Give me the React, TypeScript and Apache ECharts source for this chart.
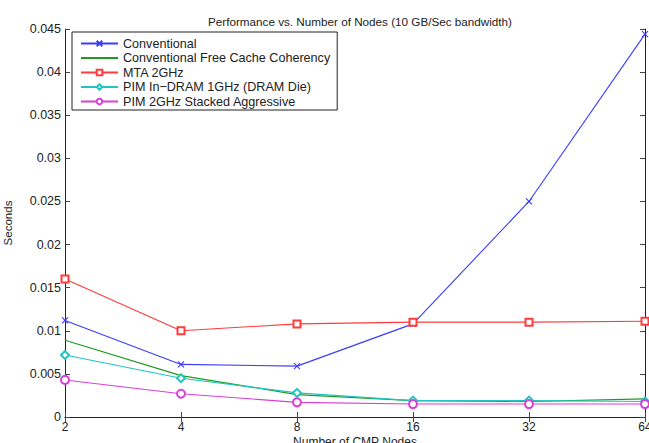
import React, { useEffect, useRef } from "react";
import * as echarts from "echarts";

const nodes = ["2", "4", "8", "16", "32", "64"];
const conventional = [0.0112, 0.0061, 0.0059, 0.0108, 0.025, 0.0444];
const freeCache = [0.0089, 0.0048, 0.0026, 0.0019, 0.0018, 0.0021];
const mta = [0.016, 0.0100, 0.0108, 0.0110, 0.0110, 0.0111];
const pimDram = [0.0072, 0.0045, 0.0028, 0.0019, 0.0019, 0.0018];
const pimStacked = [0.0043, 0.0027, 0.0017, 0.0015, 0.0015, 0.0015];

const FONT = "Liberation Sans";

export default function App() {
  const ref = useRef<HTMLDivElement>(null);
  useEffect(() => {
    if (!ref.current) return;
    const chart = echarts.init(ref.current, null, { renderer: "svg" });
    const axisLine = { show: true, lineStyle: { color: "#222", width: 1 } };
    const axisTick = { show: true, inside: true, length: 5, lineStyle: { color: "#444" } };
    const mk = (name: string, data: number[], color: string, symbol: string, size: number) => ({
      name,
      type: "line",
      data,
      symbol,
      symbolSize: size,
      showSymbol: symbol !== "none",
      lineStyle: { color, width: 1.1 },
      itemStyle: { color, borderColor: color, borderWidth: 1.1 },
      emphasis: { disabled: true },
    });
    chart.setOption({
      animation: false,
      backgroundColor: "#fff",
      title: {
        text: "Performance vs. Number of Nodes (10 GB/Sec bandwidth)",
        left: 355,
        textAlign: "center",
        top: 10,
        textStyle: { fontFamily: FONT, fontSize: 11.7, fontWeight: "normal", color: "#222" },
      },
      legend: {
        orient: "vertical",
        left: 72,
        top: 32,
        padding: [5, 7, 2, 8],
        borderColor: "#222",
        borderWidth: 1,
        backgroundColor: "#fff",
        itemWidth: 37,
        itemHeight: 7,
        itemGap: 1.5,
        textStyle: { fontFamily: FONT, fontSize: 12.6, color: "#222", lineHeight: 12 },
        data: [
          { name: "Conventional" },
          { name: "Conventional Free Cache Coherency", itemStyle: { opacity: 0 } },
          { name: "MTA 2GHz" },
          { name: "PIM In\u2212DRAM 1GHz (DRAM Die)" },
          { name: "PIM 2GHz Stacked Aggressive" },
        ],
      },
      grid: { left: 65, right: 4, top: 29, bottom: 26, containLabel: false, outerBoundsMode: "none" },
      xAxis: [
        {
          type: "category",
          data: nodes,
          boundaryGap: false,
          name: "Number of CMP Nodes",
          nameLocation: "middle",
          nameGap: 19,
          nameMoveOverlap: false,
          nameTextStyle: { fontFamily: FONT, fontSize: 12, color: "#222" },
          axisLine,
          axisTick,
          axisLabel: { fontFamily: FONT, fontSize: 12, color: "#222", margin: 4 },
          splitLine: { show: false },
        },
        {
          type: "category",
          data: nodes,
          boundaryGap: false,
          position: "top",
          axisLine,
          axisTick,
          axisLabel: { show: false },
          splitLine: { show: false },
        },
      ],
      yAxis: [
        {
          type: "value",
          min: 0,
          max: 0.045,
          interval: 0.005,
          name: "Seconds",
          nameLocation: "middle",
          nameGap: 51,
          nameMoveOverlap: false,
          nameTextStyle: { fontFamily: FONT, fontSize: 11.5, color: "#222" },
          axisLine,
          axisTick,
          axisLabel: {
            fontFamily: FONT,
            fontSize: 12.5,
            color: "#222",
            margin: 4,
            formatter: (v: number) => String(+v.toFixed(3)),
          },
          splitLine: { show: false },
        },
        {
          type: "value",
          min: 0,
          max: 0.045,
          interval: 0.005,
          position: "right",
          axisLine,
          axisTick,
          axisLabel: { show: false },
          splitLine: { show: false },
        },
      ],
      series: [
        mk("Conventional", conventional, "#3b3bff", "path://M0,0L10,10M10,0L0,10", 6),
        mk("Conventional Free Cache Coherency", freeCache, "#1f9a1f", "none", 0),
        mk("MTA 2GHz", mta, "#ff3b3b", "emptyRect", 7),
        mk("PIM In\u2212DRAM 1GHz (DRAM Die)", pimDram, "#22c4c4", "emptyDiamond", 8),
        mk("PIM 2GHz Stacked Aggressive", pimStacked, "#d840d8", "emptyCircle", 8),
      ],
    });
    return () => chart.dispose();
  }, []);
  return <div ref={ref} style={{ width: 649, height: 443, position: "absolute", left: 0, top: 0 }} />;
}
